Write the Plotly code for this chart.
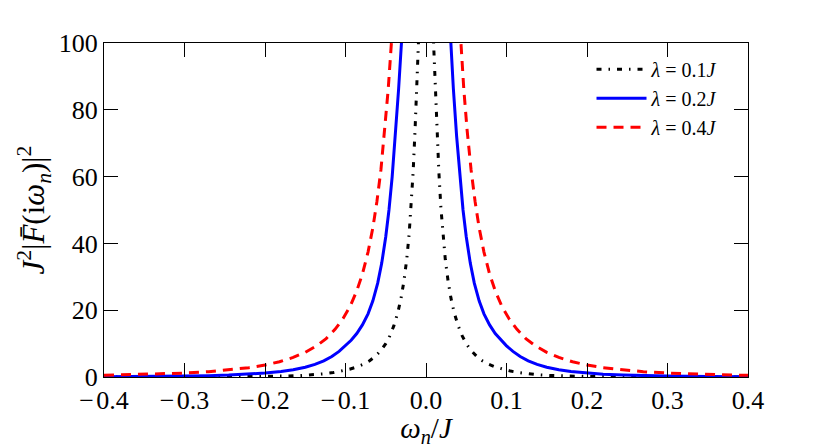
import plotly.graph_objects as go

# lambda = 0.1 J  (black dash-dot)
x_l1 = [-0.4, -0.3, -0.25, -0.2, -0.175, -0.155, -0.14, -0.127, -0.115, -0.105, -0.095, -0.086,
        -0.078, -0.07, -0.063, -0.056, -0.05, -0.045, -0.04, -0.035, -0.031, -0.0275, -0.024,
        -0.021, -0.0185, -0.016, -0.0136, -0.0115, -0.0094, -0.006,
        0.006, 0.0094, 0.0115, 0.0136, 0.016, 0.0185, 0.021, 0.024, 0.0275, 0.031, 0.035, 0.04,
        0.045, 0.05, 0.056, 0.063, 0.07, 0.078, 0.086, 0.095, 0.105, 0.115, 0.127, 0.14, 0.155,
        0.175, 0.2, 0.25, 0.3, 0.4]
y_l1 = [0.01, 0.031, 0.063, 0.16, 0.27, 0.44, 0.66, 0.95, 1.33, 1.77, 2.34, 3.01,
        3.8, 4.87, 6.17, 7.93, 10.0, 12.3, 15.3, 19.3, 23.6, 28.6, 35.1,
        42.6, 50.7, 61.3, 73.9, 85.9, 100.0, 131.0,
        131.0, 100.0, 85.9, 73.9, 61.3, 50.7, 42.6, 35.1, 28.6, 23.6, 19.3, 15.3,
        12.3, 10.0, 7.93, 6.17, 4.87, 3.8, 3.01, 2.34, 1.77, 1.33, 0.95, 0.66, 0.44,
        0.27, 0.16, 0.063, 0.031, 0.01]

# lambda = 0.2 J  (blue solid)
x_l2 = [-0.4, -0.35, -0.3, -0.27, -0.245, -0.22, -0.2, -0.18, -0.165, -0.15, -0.138, -0.127,
        -0.117, -0.108, -0.1, -0.093, -0.086, -0.079, -0.072, -0.066, -0.06, -0.055, -0.05,
        -0.046, -0.042, -0.038, -0.034, -0.0305, -0.025,
        0.025, 0.0305, 0.034, 0.038, 0.042, 0.046, 0.05, 0.055, 0.06, 0.066, 0.072, 0.079,
        0.086, 0.093, 0.1, 0.108, 0.117, 0.127, 0.138, 0.15, 0.165, 0.18, 0.2, 0.22, 0.245,
        0.27, 0.3, 0.35, 0.4]
y_l2 = [0.1, 0.16, 0.27, 0.4, 0.58, 0.85, 1.17, 1.66, 2.18, 2.93, 3.78, 4.85,
        6.15, 7.67, 9.33, 11.0, 13.0, 15.6, 18.9, 22.8, 28.1, 34.1, 42.0,
        50.0, 60.0, 72.2, 86.3, 100.0, 126.0,
        126.0, 100.0, 86.3, 72.2, 60.0, 50.0, 42.0, 34.1, 28.1, 22.8, 18.9, 15.6,
        13.0, 11.0, 9.33, 7.67, 6.15, 4.85, 3.78, 2.93, 2.18, 1.66, 1.17, 0.85, 0.58,
        0.4, 0.27, 0.16, 0.1]

# lambda = 0.4 J  (red dashed)
x_l4 = [-0.4, -0.365, -0.33, -0.3, -0.27, -0.245, -0.22, -0.2, -0.182, -0.165, -0.15, -0.136,
        -0.124, -0.113, -0.103, -0.094, -0.086, -0.079, -0.072, -0.066, -0.061, -0.056, -0.051,
        -0.047, -0.043, -0.037,
        0.037, 0.043, 0.047, 0.051, 0.056, 0.061, 0.066, 0.072, 0.079, 0.086, 0.094, 0.103,
        0.113, 0.124, 0.136, 0.15, 0.165, 0.182, 0.2, 0.22, 0.245, 0.27, 0.3, 0.33, 0.365, 0.4]
y_l4 = [0.505, 0.665, 0.9, 1.18, 1.59, 2.08, 2.78, 3.58, 4.57, 5.85, 7.39, 9.33,
        11.5, 14.25, 17.5, 21.3, 25.8, 30.8, 37.4, 44.7, 52.5, 62.0, 74.1,
        86.0, 100.0, 125.0,
        125.0, 100.0, 86.0, 74.1, 62.0, 52.5, 44.7, 37.4, 30.8, 25.8, 21.3, 17.5,
        14.25, 11.5, 9.33, 7.39, 5.85, 4.57, 3.58, 2.78, 2.08, 1.59, 1.18, 0.9, 0.665, 0.505]

names = ["<i>λ</i> = 0.1<i>J</i>", "<i>λ</i> = 0.2<i>J</i>", "<i>λ</i> = 0.4<i>J</i>"]

x_ticks = [-0.4, -0.3, -0.2, -0.1, 0.0, 0.1, 0.2, 0.3, 0.4]
x_ticktext = ["\u2212\u200a0.4", "\u2212\u200a0.3", "\u2212\u200a0.2", "\u2212\u200a0.1",
              "0.0", "0.1", "0.2", "0.3", "0.4"]
y_ticks = [0, 20, 40, 60, 80, 100]
y_ticktext = ["0", "20", "40", "60", "80", "100"]

FONT = "Liberation Serif"

fig = go.Figure()
fig.add_trace(go.Scatter(x=x_l1, y=y_l1, mode="lines", name=names[0],
                         line=dict(color="black", width=3, dash="5px,7px,1.5px,7px")))
fig.add_trace(go.Scatter(x=x_l2, y=y_l2, mode="lines", name=names[1],
                         line=dict(color="#0000ff", width=3)))
fig.add_trace(go.Scatter(x=x_l4, y=y_l4, mode="lines", name=names[2],
                         line=dict(color="#ff0000", width=3, dash="10px,7px")))

axis_common = dict(showline=True, linecolor="black", linewidth=1.3, mirror="ticks",
                   ticks="inside", ticklen=14, tickwidth=1.2, tickcolor="black",
                   showgrid=False, zeroline=False, automargin=False,
                   tickfont=dict(family=FONT, size=26, color="black"))

fig.update_xaxes(range=[-0.4, 0.4], tickvals=x_ticks, ticktext=x_ticktext,
                 title=dict(text="<i>ω</i><sub><i>n</i></sub>/<i>J</i>",
                            font=dict(family=FONT, size=29, color="black"), standoff=6),
                 **axis_common)
fig.update_yaxes(range=[0, 100], tickvals=y_ticks, ticktext=y_ticktext,
                 title=dict(text="<i>J</i><sup>2</sup>|<i>F\u0304</i>(i<i>ω</i><sub><i>n</i></sub>)|<sup>2</sup>",
                            font=dict(family=FONT, size=31, color="black"), standoff=4),
                 **axis_common)

# The page body has an 8px margin, so the figure is sized to fit the window.
fig.update_layout(
    width=823, height=440,
    margin=dict(l=96, r=83, t=35, b=71),
    plot_bgcolor="white", paper_bgcolor="white",
    font=dict(family=FONT, color="black"),
    legend=dict(x=0.757, y=0.98, xanchor="left", yanchor="top",
                bgcolor="rgba(0,0,0,0)", borderwidth=0,
                font=dict(family=FONT, size=20, color="black"),
                itemwidth=50, tracegroupgap=0),
    showlegend=True,
)

fig.write_html("out.html")
